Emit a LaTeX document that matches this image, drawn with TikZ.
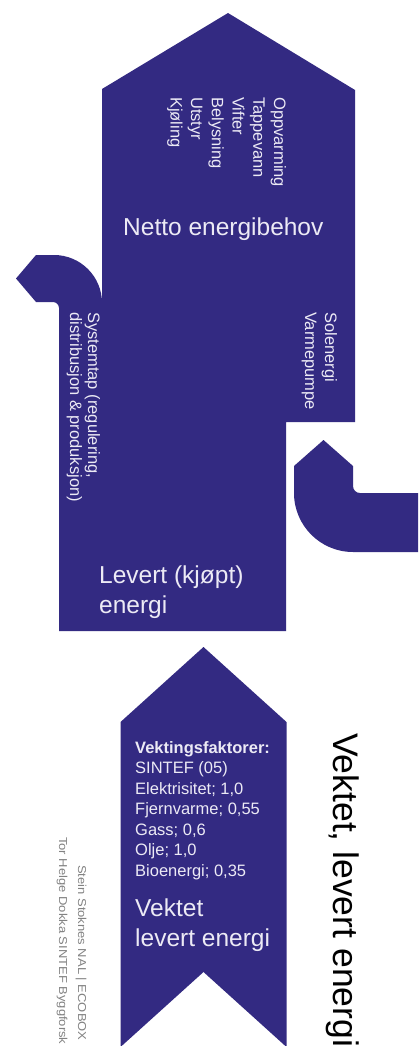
\documentclass[tikz,border=0pt]{standalone}
\usepackage{fontspec}
\setmainfont{Liberation Sans}
\definecolor{ink}{RGB}{51,42,130}
\definecolor{lite}{RGB}{236,234,245}
\definecolor{credit}{RGB}{130,130,130}
\tikzset{
  blob/.style={fill=ink, draw=none},
  wtxt/.style={text=lite, inner sep=0pt, font=\fontsize{16.5}{19}\selectfont},
  vtxt/.style={wtxt, rotate=-90, anchor=base west},
  htxt/.style={wtxt, anchor=base west},
  bigw/.style={text=lite, inner sep=0pt, anchor=base west, font=\fontsize{24.5}{28}\selectfont},
  credtxt/.style={text=credit, inner sep=0pt, rotate=-90, anchor=base west, font=\fontsize{11.5}{13}\selectfont},
  sidetxt/.style={text=black, inner sep=0pt, rotate=-90, anchor=base west, font=\fontsize{35.5}{40}\selectfont}
}
\begin{document}
\begin{tikzpicture}[x=1pt, y=-1pt]
\useasboundingbox (0,0) rectangle (418,1046);
\fill[white] (0,0) rectangle (418,1046);
\clip (0,0) rectangle (418,1046);

% main house body
\path[blob] (228,13) -- (355,90) -- (355,422) -- (286,422) -- (286,631)
  -- (59,631) -- (59,303) -- (102,303) -- (102,89) -- cycle;
% left pipe with arrow tip
\path[blob] (16,278.5) -- (36,255) -- (54,255)
  .. controls (80.5,255) and (102,276.5) .. (102,303)
  -- (102,320) -- (59,320) -- (59,308)
  .. controls (59,304.7) and (56.3,302) .. (53,302)
  -- (36,302) -- cycle;
% right pipe with arrow tip
\path[blob] (323.5,440) -- (353,466) -- (353,486)
  .. controls (353,489.9) and (356.1,493) .. (360,493)
  -- (425,493) -- (425,552) -- (353,552)
  .. controls (320.4,552) and (294,525.6) .. (294,493)
  -- (294,466) -- cycle;
% bottom ribbon
\path[blob] (203.5,647) -- (286.5,722) -- (286.5,1047) -- (203.5,972)
  -- (120.5,1047) -- (120.5,722) -- cycle;

% house column texts
\node[vtxt] (t1) at (274,97) {Oppvarming};
\node[vtxt] (t2) at (253.3,97) {Tappevann};
\node[vtxt] (t3) at (232.6,97) {Vifter};
\node[vtxt] (t4) at (211.9,97) {Belysning};
\node[vtxt] (t5) at (191.2,97) {Utstyr};
\node[vtxt] (t6) at (170.5,97) {Kjøling};

\node[bigw] (netto) at (123,235) {Netto energibehov};

\node[vtxt] (sys1) at (88,312) {Systemtap (regulering,};
\node[vtxt] (sys2) at (70,312) {distribusjon \& produksjon)};

\node[vtxt] (sol) at (325,312) {Solenergi};
\node[vtxt] (varm) at (305,312) {Varmepumpe};

\node[bigw] (lev1) at (99,583) {Levert (kjøpt)};
\node[bigw] (lev2) at (99,613) {energi};

% ribbon texts
\node[htxt, font=\fontsize{16.5}{19}\selectfont\bfseries] (vf) at (135,753) {Vektingsfaktorer:};
\node[htxt] (f1) at (135,773.5) {SINTEF (05)};
\node[htxt] (f2) at (135,794) {Elektrisitet; 1,0};
\node[htxt] (f3) at (135,814.5) {Fjernvarme; 0,55};
\node[htxt] (f4) at (135,835) {Gass; 0,6};
\node[htxt] (f5) at (135,855.5) {Olje; 1,0};
\node[htxt] (f6) at (135,876) {Bioenergi; 0,35};
\node[bigw] (vl1) at (135,916) {Vektet};
\node[bigw] (vl2) at (135,946) {levert energi};

% side texts
\node[sidetxt] (side) at (333,733) {Vektet, levert energi};
\node[credtxt] (cr1) at (78,865) {\scalebox{1.13}[1]{Stein Stoknes NAL | ECOBOX}};
\node[credtxt] (cr2) at (59,837) {\scalebox{1.13}[1]{Tor Helge Dokka SINTEF Byggforsk}};
\end{tikzpicture}
\end{document}
